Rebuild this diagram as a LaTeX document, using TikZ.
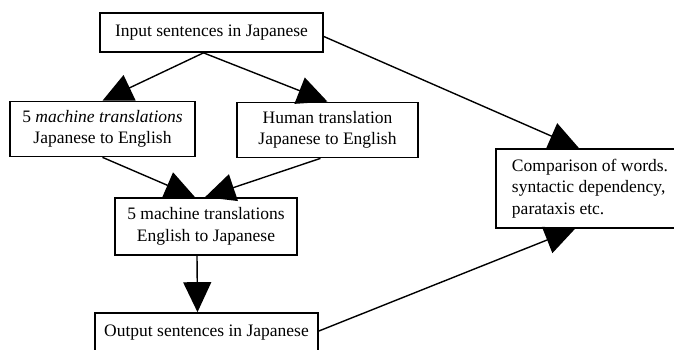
\documentclass[tikz,border=0pt]{standalone}
\usepackage{fontspec}
\setmainfont{Liberation Serif}
\usetikzlibrary{arrows.meta}
\tikzset{big arrow/.style={-{Triangle[length=30pt,width=28pt]}, line width=1.4pt}}

\begin{document}
\begin{tikzpicture}[x=1pt,y=-1pt]
				\tikzstyle{box} = [draw, line width=1.7pt, inner sep=0pt, align=center, font=\fontsize{17.5}{21.5}\selectfont]
				
				\useasboundingbox (0,0) rectangle (674,349);
				
				\node[box, minimum width=223, minimum height=39] (inp)  at (211.5,32.5) {Input sentences in Japanese};
				\node[box, minimum width=185, minimum height=55] (mtje) at (102.5,129) {5 \textit{machine translations}\\Japanese to English};
				\node[box, minimum width=181, minimum height=55] (hum)  at (327.5,130) {Human translation\\Japanese to English};
				\node[box, minimum width=182, minimum height=57] (mtej) at (206,226.5) {5 machine translations\\English to Japanese};
				\node[box, minimum width=223, minimum height=40] (outp) at (206.5,333) {Output sentences in Japanese};
				\node[box, minimum width=188, minimum height=79, align=left] (comp) at (590,188.5) {Comparison of words.\\syntactic dependency,\\parataxis etc.};
				
				\draw[big arrow] ([xshift=-8]inp.south) -- (mtje.north);
				\draw[big arrow] ([xshift=-8]inp.south) -- (hum.north);
				\draw[big arrow] (mtje.south) -- ([xshift=-11]mtej.north);
				\draw[big arrow] ([xshift=-7]hum.south) -- ([xshift=-1]mtej.north);
				\draw[big arrow] ([xshift=-9]mtej.south) -- ([xshift=-9]outp.north);
				
				\draw[big arrow] ([yshift=-4]inp.east) -- ([xshift=-11]comp.north);
				\draw[big arrow] ([yshift=2]outp.east) -- ([xshift=-15]comp.south);
				
			\end{tikzpicture}
\end{document}
